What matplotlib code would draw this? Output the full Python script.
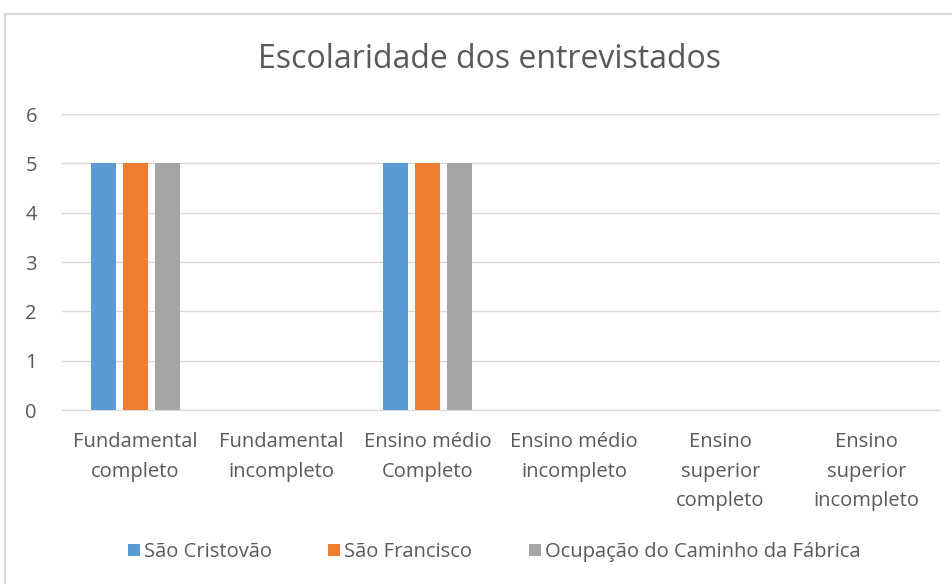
import matplotlib
matplotlib.use("Agg")
import matplotlib.pyplot as plt
import numpy as np
from matplotlib.patches import Rectangle

categories = ["Fundamental\ncompleto", "Fundamental\nincompleto", "Ensino médio\nCompleto",
              "Ensino médio\nincompleto", "Ensino\nsuperior\ncompleto", "Ensino\nsuperior\nincompleto"]
series_names = ["São Cristovão", "São Francisco", "Ocupação do Caminho da Fábrica"]
sao_cristovao = [5, 0, 5, 0, 0, 0]
sao_francisco = [5, 0, 5, 0, 0, 0]
ocupacao = [5, 0, 5, 0, 0, 0]
colors = ["#5b9bd5", "#ed7d31", "#a5a5a5"]

plt.rcParams['font.family'] = ['Open Sans', 'DejaVu Sans']

fig = plt.figure(figsize=(9.53, 5.84), dpi=100)
fig.patch.set_facecolor("white")
fig.patches.append(Rectangle((5/953, -0.05), 1.1, 1 - 14/584 + 0.05, transform=fig.transFigure,
                             fill=False, edgecolor="#d9d9d9", linewidth=1.5))

ax = fig.add_axes([62/953, 1 - 410/584, (940 - 62)/953, (410 - 114)/584])
x = np.arange(len(categories))
w = 0.171
step = 0.219
for i, (vals, name) in enumerate(zip([sao_cristovao, sao_francisco, ocupacao], series_names)):
    ax.bar(x + (i - 1) * step, vals, width=w, color=colors[i], label=name, zorder=3)

ax.set_xlim(-0.5, len(categories) - 0.5)
ax.set_ylim(0, 6)
ax.set_yticks(range(0, 7))
ax.yaxis.grid(True, color="#d9d9d9", linewidth=1)
ax.set_axisbelow(True)
for s in ["top", "right", "left"]:
    ax.spines[s].set_visible(False)
ax.spines["bottom"].set_color("#d9d9d9")
ax.tick_params(axis="both", length=0, colors="#595959", labelsize=14.5)
ax.tick_params(axis="y", pad=18)
ax.tick_params(axis="x", pad=16)
ax.set_xticks(x)
ax.set_xticklabels(categories, linespacing=1.62)

fig.text(490/953, 1 - 60/584, "Escolaridade dos entrevistados", ha="center", va="center",
         fontsize=23, color="#595959")

leg = fig.legend(loc="center", bbox_to_anchor=(494/953, 1 - 552/584), ncol=3, frameon=False,
                 fontsize=14.5, handlelength=0.6, handleheight=0.6, handletextpad=0.2,
                 columnspacing=2.8, labelcolor="#595959")

fig.savefig("out.png", dpi=100)
